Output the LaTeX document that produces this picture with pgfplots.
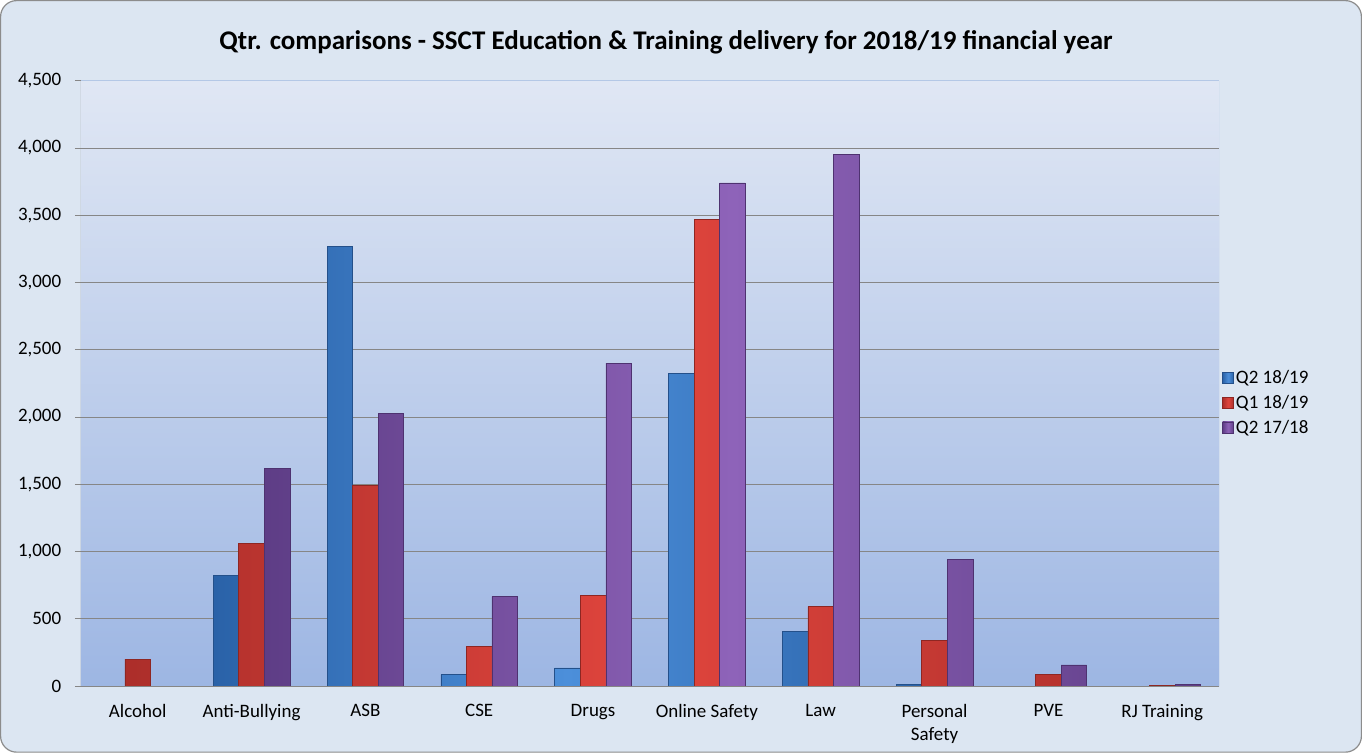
\documentclass[border=0pt]{standalone}
\usepackage{fontspec}
\setmainfont{Carlito}
\usepackage{pgfplots}
\pgfplotsset{compat=1.18}
\usetikzlibrary{backgrounds}
\definecolor{frameBG}{HTML}{DCE6F2}
\definecolor{frameLine}{HTML}{8C8C8C}
\definecolor{plotTop}{HTML}{E0E7F4}
\definecolor{plotBot}{HTML}{9DB6E3}
\definecolor{gridC}{HTML}{868686}
\definecolor{topLine}{HTML}{B4C8E6}
\definecolor{blueD}{HTML}{2A62A8}
\definecolor{blueL}{HTML}{4C8FDA}
\definecolor{blueE}{HTML}{24508A}
\definecolor{redD}{HTML}{AC2E2A}
\definecolor{redL}{HTML}{E0453D}
\definecolor{redE}{HTML}{8E2622}
\definecolor{purD}{HTML}{5E3D86}
\definecolor{purL}{HTML}{8E63B9}
\definecolor{purE}{HTML}{4E3270}
\begin{document}
\begin{tikzpicture}[x=1bp,y=1bp]
\begin{axis}[
  name=ax, at={(0,0)}, anchor=south west,
  scale only axis, width=1136bp, height=604bp,
  xmin=-0.5, xmax=9.5, ymin=0, ymax=4500,
  ybar=0pt, bar width=25.5bp,
  axis background/.style={top color=plotTop, bottom color=plotBot},
  axis line style={draw=none},
  xtick={0,...,9},
  xticklabels={Alcohol,Anti-Bullying,ASB,CSE,Drugs,Online Safety,Law,{Personal\\Safety},PVE,RJ Training},
  xticklabel style={align=center, font=\fontsize{19}{22.3}\selectfont, yshift=-9bp},
  major x tick style={draw=none},
  extra x ticks={-0.5,0.5,...,9.5},
  extra x tick labels={},
  extra x tick style={major tick length=6bp, tick align=outside, major tick style={draw=gridC, line width=1bp}, grid=none},
  ytick={0,500,...,4500},
  yticklabel style={font=\fontsize{19}{22.3}\selectfont, xshift=-10bp, /pgf/number format/.cd, fixed, 1000 sep={,}, assume math mode=true},
  major y tick style={draw=gridC, line width=1bp},
  major tick length=6bp, tick align=outside,
  ymajorgrids, grid style={gridC, line width=1bp},
  tick pos=left,
  legend style={at={(1,0.468)}, anchor=west, xshift=3bp, draw=none, fill=none, inner sep=0pt,
    font=\fontsize{19}{22.3}\selectfont, row sep=6bp,
    /tikz/every even column/.append style={column sep=3bp}},
  legend cell align=left,
  legend image code/.code={\path[#1] (0bp,-5.5bp) rectangle (11bp,5.5bp);},
]
\addplot[draw=blueE, line width=0.6bp, left color=blueD, right color=blueD, middle color=blueL]
  coordinates {(1,820) (2,3270) (3,85) (4,135) (5,2325) (6,405) (7,10)};
\addplot[draw=redE, line width=0.6bp, left color=redD, right color=redD, middle color=redL]
  coordinates {(0,200) (1,1060) (2,1490) (3,293) (4,675) (5,3470) (6,590) (7,340) (8,87) (9,3)};
\addplot[draw=purE, line width=0.6bp, left color=purD, right color=purD, middle color=purL]
  coordinates {(1,1620) (2,2025) (3,665) (4,2400) (5,3740) (6,3950) (7,940) (8,157) (9,12)};
\legend{Q2 18/19, Q1 18/19, Q2 17/18}
\draw[topLine, line width=1bp] (rel axis cs:0,1) -- (rel axis cs:1,1);
\draw[topLine, line width=1bp] (rel axis cs:1,0) -- (rel axis cs:1,1);
\draw[gridC, line width=1bp] (rel axis cs:0,0) -- (rel axis cs:1,0);
\draw[gridC, line width=1bp] (rel axis cs:0,0) -- (rel axis cs:0,1);
\end{axis}
\begin{scope}[on background layer]
\fill[frameBG, draw=frameLine, line width=1.2bp, rounded corners=16bp]
  ([shift={(-80,-66)}]ax.south west) rectangle ([shift={(1278,684)}]ax.south west);
\end{scope}
\node[anchor=base, font=\bfseries\fontsize{27}{30}\selectfont, inner sep=0]
  at ([shift={(584,635.3)}]ax.south west)
  {Qtr. comparisons - SSCT Education \& Training delivery for 2018/19 financial year};
\end{tikzpicture}
\end{document}
